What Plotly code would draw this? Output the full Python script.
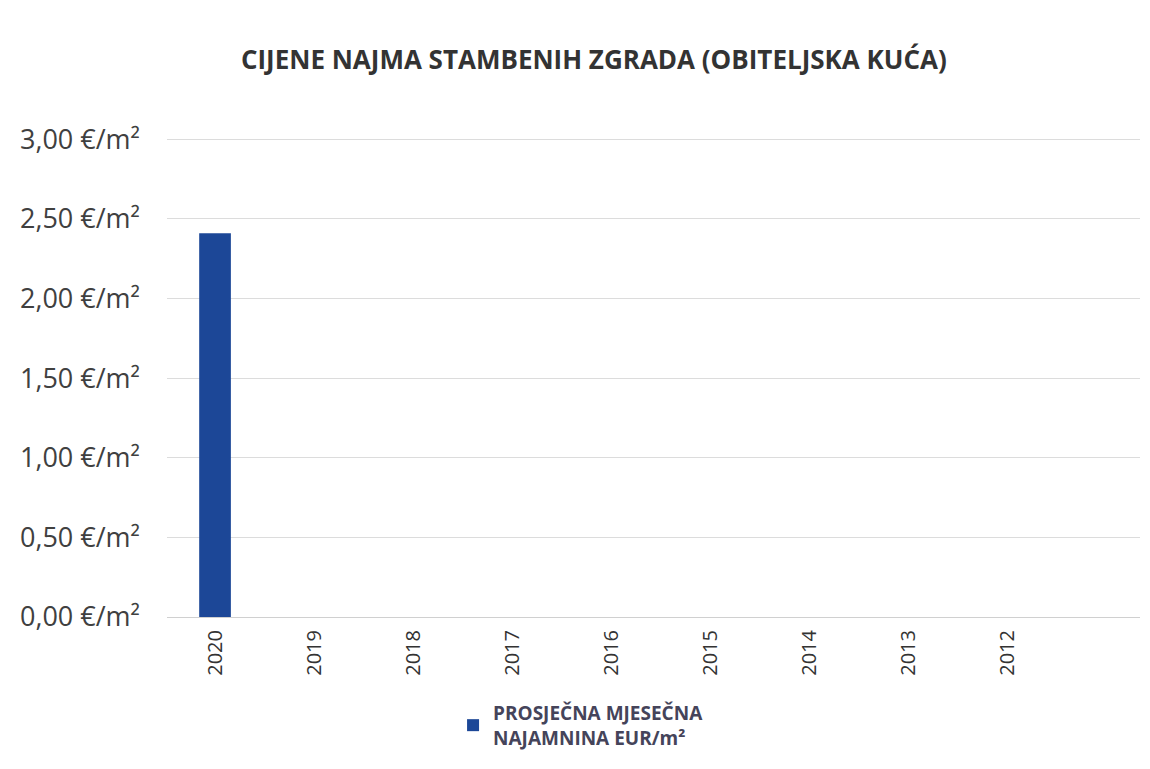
import plotly.graph_objects as go

years = ["2020", "2019", "2018", "2017", "2016", "2015", "2014", "2013", "2012"]
values = [2.41, None, None, None, None, None, None, None, None]
y_ticks = [0, 0.5, 1.0, 1.5, 2.0, 2.5, 3.0]
y_tick_labels = ["0,00 €/m²", "0,50 €/m²", "1,00 €/m²", "1,50 €/m²", "2,00 €/m²", "2,50 €/m²", "3,00 €/m²"]
series_name = "PROSJEČNA MJESEČNA<br>NAJAMNINA EUR/m²"

fig = go.Figure()
fig.add_trace(go.Bar(
    x=years, y=values, name=series_name,
    marker=dict(color="#1c4797", line=dict(width=0)), width=0.32, showlegend=True,
))

# page body has an 8px margin, so the figure is drawn at (8, 8)
fig.update_layout(
    width=1142, height=761,
    paper_bgcolor="white", plot_bgcolor="white",
    margin=dict(l=159, r=10, t=128, b=152, autoexpand=False),
    title=dict(text="<b>CIJENE NAJMA STAMBENIH ZGRADA (OBITELJSKA KUĆA)</b>",
               x=0.513, xanchor="center", y=0.932, yanchor="middle",
               font=dict(family="Open Sans", size=26, color="#333333")),
    font=dict(family="Open Sans", color="#404040"),
    legend=dict(orientation="h", x=0.294, xanchor="left", y=-0.16, yanchor="top",
                font=dict(family="Open Sans", size=19, color="#45445a", weight="bold"),
                itemwidth=30, tracegroupgap=0),
    showlegend=True,
)
fig.update_xaxes(
    type="category", categoryorder="array", categoryarray=years,
    range=[-0.485, 9.34], tickangle=-90, automargin=False,
    tickfont=dict(family="Open Sans", size=20, color="#333333"),
    showgrid=False, showline=False, ticks="", ticklen=0, ticklabelstandoff=8,
)
fig.update_yaxes(
    range=[0, 3.02], tickvals=y_ticks, ticktext=y_tick_labels, automargin=False,
    tickfont=dict(family="Open Sans", size=27, color="#404040"),
    showgrid=True, gridcolor="#dcdcdc", gridwidth=1,
    zeroline=True, zerolinecolor="#d0d0d0", zerolinewidth=1,
    ticks="", ticklabelstandoff=26,
)

fig.write_html("out.html")
